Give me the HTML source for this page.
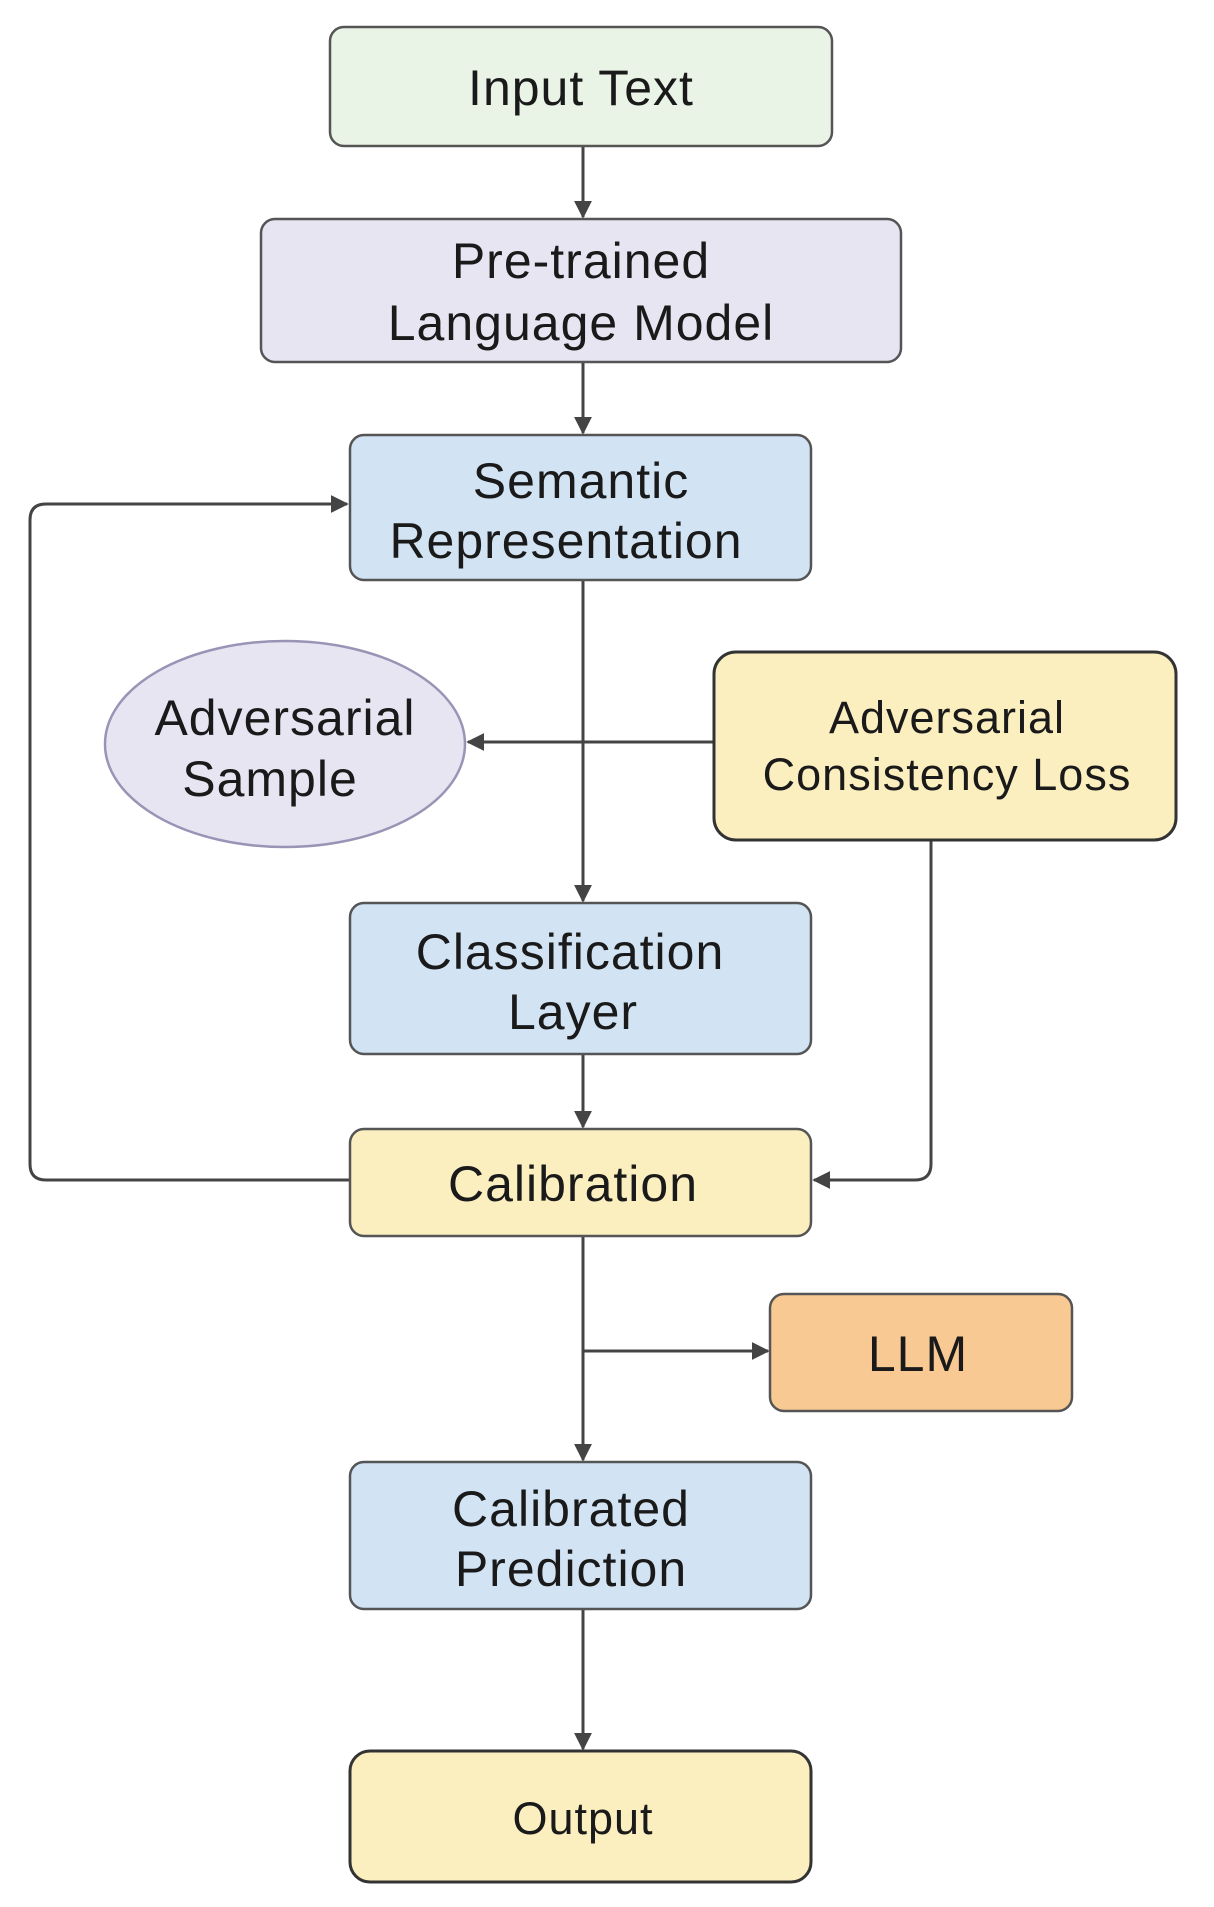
<!DOCTYPE html>
<html><head><meta charset="utf-8"><style>
html,body{margin:0;padding:0;background:#fff;}
svg{display:block;}
text{font-family:"Liberation Sans",sans-serif;fill:#1a1a1a;text-anchor:middle;letter-spacing:1px;}
</style></head><body>
<svg width="1214" height="1907" viewBox="0 0 1214 1907" xmlns="http://www.w3.org/2000/svg">
<defs>
<marker id="a" viewBox="0 0 10 10" refX="9" refY="5" markerWidth="6" markerHeight="6" orient="auto-start-reverse">
<path d="M0,0 L10,5 L0,10 z" fill="#444"/></marker>
</defs>
<g stroke="#444" stroke-width="3" fill="none">
<line x1="583" y1="146" x2="583" y2="217" marker-end="url(#a)"/>
<line x1="583" y1="362" x2="583" y2="433" marker-end="url(#a)"/>
<line x1="583" y1="580" x2="583" y2="901" marker-end="url(#a)"/>
<line x1="714" y1="742" x2="468" y2="742" marker-end="url(#a)"/>
<line x1="583" y1="1054" x2="583" y2="1127" marker-end="url(#a)"/>
<path d="M350,1180 H46 Q30,1180 30,1164 V520 Q30,504 46,504 H347" marker-end="url(#a)"/>
<path d="M931,840 V1164 Q931,1180 915,1180 H814" marker-end="url(#a)"/>
<line x1="583" y1="1236" x2="583" y2="1460" marker-end="url(#a)"/>
<line x1="583" y1="1351" x2="768" y2="1351" marker-end="url(#a)"/>
<line x1="583" y1="1609" x2="583" y2="1749" marker-end="url(#a)"/>
</g>
<g stroke="#555" stroke-width="2.5">
<rect x="330" y="27" width="502" height="119" rx="14" fill="#e9f4e6"/>
<rect x="261" y="219" width="640" height="143" rx="14" fill="#e8e5f3"/>
<rect x="350" y="435" width="461" height="145" rx="14" fill="#d2e3f4"/>
<ellipse cx="285" cy="744" rx="180" ry="103" fill="#e8e5f3" stroke="#9a93b5"/>
<rect x="714" y="652" width="462" height="188" rx="22" fill="#fbefc0" stroke="#333" stroke-width="3"/>
<rect x="350" y="903" width="461" height="151" rx="14" fill="#d2e3f4"/>
<rect x="350" y="1129" width="461" height="107" rx="14" fill="#fbefc0"/>
<rect x="770" y="1294" width="302" height="117" rx="14" fill="#f9c994"/>
<rect x="350" y="1462" width="461" height="147" rx="14" fill="#d2e3f4"/>
<rect x="350" y="1751" width="461" height="131" rx="20" fill="#fbefc0" stroke="#333" stroke-width="3"/>
</g>
<g font-size="50">
<text x="581" y="105">Input Text</text>
<text x="581" y="278">Pre-trained</text>
<text x="581" y="340">Language Model</text>
<text x="581" y="498">Semantic</text>
<text x="566" y="558">Representation</text>
<text x="285" y="735">Adversarial</text>
<text x="270" y="796">Sample</text>
<text x="570" y="969">Classification</text>
<text x="573" y="1029">Layer</text>
<text x="573" y="1201">Calibration</text>
<text x="918" y="1371">LLM</text>
<text x="571" y="1526">Calibrated</text>
<text x="571" y="1586">Prediction</text>
</g>
<g font-size="45">
<text x="947" y="733">Adversarial</text>
<text x="947" y="790">Consistency Loss</text>
<text x="583" y="1834">Output</text>
</g>
</svg>
</body></html>
